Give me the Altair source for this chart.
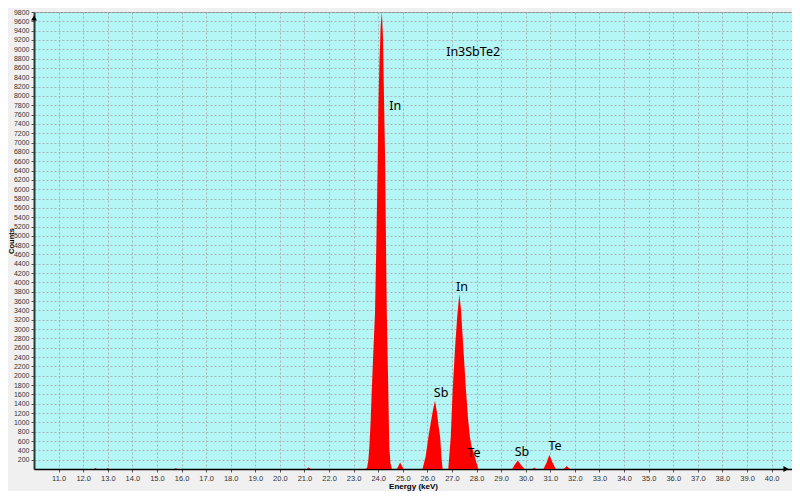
import altair as alt
import pandas as pd

# ---- spectrum (energy in keV, counts) ----
energy = [11.60, 12.45, 12.50, 12.55, 12.95, 13.00, 13.05, 15.72, 15.77, 15.82,
          21.10, 21.15, 21.20, 21.25,
          23.50, 23.55, 23.60, 23.64, 23.69, 23.74, 23.80, 23.87, 23.93, 23.98,
          24.01, 24.05, 24.10, 24.15, 24.19, 24.24, 24.28, 24.32, 24.35, 24.41,
          24.45, 24.50, 24.56,
          24.75, 24.82, 24.89, 24.96, 25.03,
          25.80, 25.86, 25.93, 26.04, 26.14, 26.24, 26.31, 26.38, 26.46, 26.52,
          26.57, 26.62,
          26.85, 26.95, 27.03, 27.14, 27.22, 27.30, 27.37, 27.45, 27.57, 27.65,
          27.73, 27.80, 27.87, 27.96, 28.07,
          29.45, 29.55, 29.68, 29.80, 29.95,
          30.28, 30.35, 30.42,
          30.72, 30.85, 30.96, 31.08, 31.22,
          31.55, 31.67, 31.80,
          40.70]
counts = [0, 0, 25, 0, 0, 20, 0, 0, 20, 0,
          0, 30, 25, 0,
          0, 30, 200, 470, 1000, 1700, 2500, 3340, 5000, 6620,
          7850, 8700, 9500, 9800, 9300, 7850, 6620, 4700, 3340, 1700,
          470, 120, 0,
          0, 60, 140, 70, 0,
          0, 120, 270, 680, 1000, 1300, 1463, 1250, 900, 680,
          270, 0,
          0, 680, 1700, 2725, 3300, 3751, 3400, 2700, 1700, 1100,
          680, 480, 370, 200, 0,
          0, 90, 180, 90, 0,
          0, 30, 0,
          0, 140, 300, 150, 0,
          0, 63, 0,
          0]

# ---- annotations ----
label_text = ["In3SbTe2", "In", "In", "Sb", "Te", "Sb", "Te"]
label_energy = [27.86, 24.69, 27.41, 26.56, 27.90, 29.85, 31.19]
label_counts = [8935, 7787, 3894, 1640, 350, 371, 500]

# ---- ticks ----
x_ticks = [11, 12, 13, 14, 15, 16, 17, 18, 19, 20, 21, 22, 23, 24, 25,
           26, 27, 28, 29, 30, 31, 32, 33, 34, 35, 36, 37, 38, 39, 40]
y_ticks = [200, 400, 600, 800, 1000, 1200, 1400, 1600, 1800, 2000, 2200, 2400,
           2600, 2800, 3000, 3200, 3400, 3600, 3800, 4000, 4200, 4400, 4600,
           4800, 5000, 5200, 5400, 5600, 5800, 6000, 6200, 6400, 6600, 6800,
           7000, 7200, 7400, 7600, 7800, 8000, 8200, 8400, 8600, 8800, 9000,
           9200, 9400, 9600, 9800]

W, H = 758, 457

spec = pd.DataFrame({"energy": energy, "counts": counts})
labels = pd.DataFrame({"text": label_text, "energy": label_energy, "counts": label_counts})

xscale = alt.Scale(domain=[10.0, 40.83], nice=False, zero=False)
yscale = alt.Scale(domain=[0, 9800], nice=False)

grid_kw = dict(grid=True, gridColor="#a6b4b4", gridDash=[2, 2], gridWidth=1)

area = alt.Chart(spec).mark_area(color="#ff0000", interpolate="linear", clip=True).encode(
    x=alt.X("energy:Q", scale=xscale,
            axis=alt.Axis(values=x_ticks, tickCount=len(x_ticks) + 5, format=".1f",
                          title="Energy (keV)",
                          labelOverlap=False, labelFlush=False, **grid_kw,
                          domainColor="#000000", domainWidth=1.5,
                          tickColor="#555555", tickSize=3,
                          labelFont="Liberation Sans", labelFontSize=7.5, labelColor="#333333",
                          labelPadding=2,
                          titleFont="Liberation Sans", titleFontSize=8, titleFontWeight="bold",
                          titleColor="#000000", titlePadding=1)),
    y=alt.Y("counts:Q", scale=yscale,
            axis=alt.Axis(values=y_ticks, tickCount=len(y_ticks) + 5, format="d",
                          title="Counts",
                          labelOverlap=False, labelFlush=False, **grid_kw,
                          domainColor="#2a3a3a", domainWidth=2,
                          tickColor="#555555", tickSize=3,
                          labelFont="Liberation Sans", labelFontSize=7, labelColor="#333333",
                          labelPadding=2,
                          titleFont="Liberation Sans", titleFontSize=7.5, titleFontWeight="bold",
                          titleColor="#000000", titleX=-23, titleY=H / 2,
                          titleAngle=270, titleBaseline="middle", titleAlign="center")),
)

text = alt.Chart(labels).mark_text(font="Noto Sans", fontSize=12.5, color="#000000").encode(
    x=alt.X("energy:Q", scale=xscale),
    y=alt.Y("counts:Q", scale=yscale),
    text="text:N",
)

dummy = pd.DataFrame({"a": [0]})
arrow_up = alt.Chart(dummy).mark_point(shape="triangle-up", filled=True, color="#000000",
                                       size=35, opacity=1).encode(
    x=alt.value(0), y=alt.value(6))
arrow_right = alt.Chart(dummy).mark_point(shape="triangle-right", filled=True, color="#000000",
                                          size=35, opacity=1).encode(
    x=alt.value(W - 6), y=alt.value(H))

chart = alt.layer(area, text, arrow_up, arrow_right).properties(
    width=W, height=H,
    padding={"left": 26, "top": 4, "right": 0, "bottom": 22},
    autosize=alt.AutoSizeParams(type="none"),
    background="#f0f0f0",
).configure_view(fill="#b4f5f5", stroke="#8c8c8c")

chart.save("out.html", embed_options={"renderer": "svg", "actions": False})
